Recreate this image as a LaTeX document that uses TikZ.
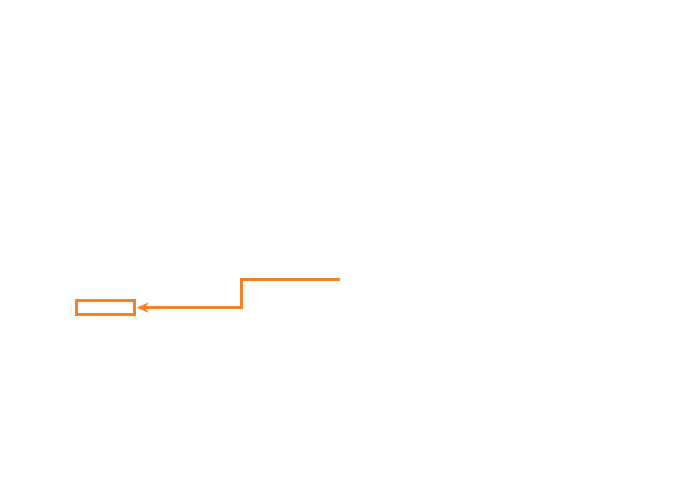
\documentclass[tikz,border=0pt]{standalone}
\usetikzlibrary{arrows.meta}
\definecolor{lineorange}{RGB}{245,128,37}
\begin{document}
\begin{tikzpicture}[x=1pt,y=-1pt,
  boxstyle/.style={draw=lineorange,line width=2.7pt,minimum width=58pt,minimum height=14pt,inner sep=0pt,outer sep=0pt},
  connector/.style={draw=lineorange,line width=2.7pt,-{Stealth[length=12pt,width=10pt,inset=4pt]},shorten >=2.4pt}]
\useasboundingbox (0,0) rectangle (680,490);
\node[boxstyle] (box) at (105.3,307.6) {};
\coordinate (start) at (339.5,279.3);
\coordinate (bend) at (241.7,279.3);
\draw[connector] (start) -- (bend) |- (box.east);
\end{tikzpicture}
\end{document}
